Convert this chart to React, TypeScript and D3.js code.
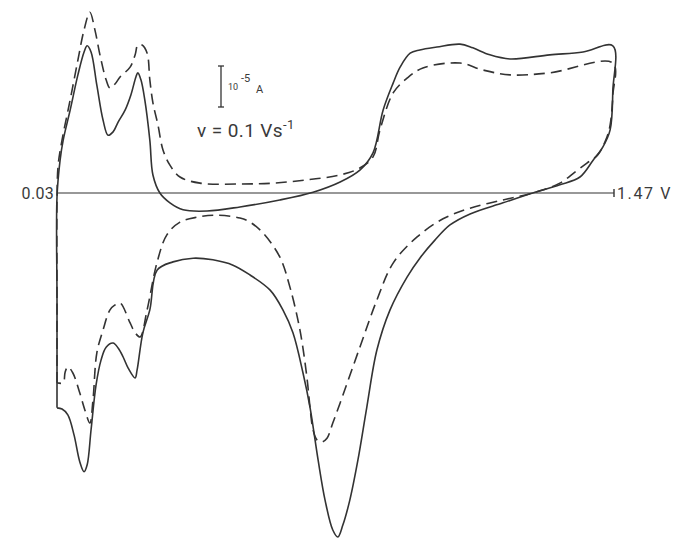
import React from "react";
import * as d3 from "d3";

// Potential axis (V) and current (µA) data
const potentialAxis = [0.03, 1.47];
const axisLabels = ["0.03", "1.47 V"];
const scaleBarMicroAmp = 10;
const scanRateLabel = "v = 0.1 Vs";

// Solid curve: [E (V), I (µA)]
const solidE = [0.030,0.030,0.030,0.038,0.046,0.064,0.084,0.100,0.108,0.118,0.133,0.149,0.162,0.175,0.188,0.206,0.221,0.234,0.239,0.247,0.257,0.270,0.278,0.296,0.322,0.356,0.418,0.503,0.606,0.692,0.762,0.813,0.847,0.873,0.899,0.917,0.943,0.968,1.012,1.072,1.105,1.149,1.201,1.304,1.390,1.467,
  1.467,1.460,1.441,1.416,1.382,1.330,1.260,1.183,1.098,1.046,1.007,0.968,0.935,0.891,0.857,0.831,0.808,0.787,0.769,0.756,0.743,0.723,0.705,0.684,0.666,0.640,0.614,0.581,0.529,0.485,0.433,0.382,0.330,0.289,0.270,0.252,0.237,0.232,0.214,0.201,0.188,0.175,0.157,0.144,0.131,0.118,0.108,0.100,0.089,0.074,0.058,0.043,0.030];
const solidI = [-52.4,-26.1,-1.0,8.0,12.9,20.2,28.8,34.4,35.9,34.4,26.3,17.8,14.1,14.9,17.3,20.2,23.9,28.3,29.3,27.6,22.7,12.9,4.4,0,-2.4,-4.1,-4.4,-3.4,-1.7,0.2,2.7,5.6,9.8,20.2,26.8,30.7,34.1,34.9,35.6,36.3,35.4,33.7,32.7,33.7,34.4,35.9,
  25.1,15.4,11.2,8.0,3.9,2.0,0,-2.4,-5.1,-7.8,-11.5,-15.9,-20.5,-28.5,-38.3,-52.2,-65.1,-74.9,-81.0,-83.9,-82.2,-74.9,-65.1,-52.2,-43.9,-34.1,-28.5,-23.7,-20.0,-17.6,-16.3,-15.9,-16.8,-18.8,-28.5,-34.1,-43.2,-45.1,-42.7,-40.0,-37.8,-36.6,-37.6,-40.7,-46.8,-57.8,-66.3,-68.0,-65.6,-59.0,-54.1,-52.7,-52.4];

// Dashed curve: [E (V), I (µA)]
const dashedE = [0.030,0.030,0.030,0.033,0.043,0.064,0.084,0.100,0.115,0.128,0.141,0.157,0.167,0.180,0.193,0.219,0.232,0.239,0.250,0.263,0.270,0.278,0.291,0.304,0.322,0.348,0.400,0.503,0.588,0.676,0.762,0.813,0.847,0.865,0.899,0.935,0.976,1.072,1.131,1.201,1.304,1.467,
  1.467,1.460,1.452,1.428,1.400,1.369,1.330,1.260,1.183,1.098,1.028,0.961,0.899,0.857,0.813,0.762,0.743,0.728,0.715,0.702,0.692,0.684,0.676,0.658,0.632,0.606,0.563,0.529,0.503,0.444,0.392,0.348,0.314,0.289,0.263,0.245,0.232,0.219,0.193,0.180,0.167,0.149,0.133,0.123,0.115,0.102,0.089,0.071,0.058,0.051,0.046,0.030];
const dashedI = [-46.3,-26.1,-1.7,6.8,12.9,22.7,32.4,39.8,44.1,39.8,33.7,27.6,25.6,26.6,28.3,30.7,33.7,36.1,36.1,34.1,27.6,22.0,16.6,10.5,6.8,3.9,2.4,2.2,2.4,3.2,4.4,6.1,8.8,15.4,24.4,28.0,30.5,31.7,30.0,28.8,29.3,31.7,
  23.9,16.6,13.7,9.3,7.3,5.1,2.4,0,-1.7,-3.7,-6.3,-10.7,-17.1,-26.1,-37.6,-51.2,-56.1,-59.8,-60.7,-60.2,-57.8,-52.2,-44.9,-33.4,-22.9,-15.6,-9.8,-7.1,-6.1,-5.4,-5.9,-7.1,-10.2,-16.8,-28.5,-35.1,-34.1,-31.7,-26.8,-27.3,-28.5,-33.4,-39.0,-50.5,-56.1,-52.9,-48.8,-43.9,-42.4,-43.7,-46.3,-46.3];

const W = 677;
const H = 542;

export default function App() {
  const x = d3.scaleLinear().domain(potentialAxis).range([57, 614]);
  const y = d3.scaleLinear().domain([0, 10]).range([193, 152]);

  const line = d3
    .line<[number, number]>()
    .x((d) => x(d[0]))
    .y((d) => y(d[1]))
    .curve(d3.curveCatmullRom.alpha(0.5));

  const solid: [number, number][] = solidE.map((e, i) => [e, solidI[i]]);
  const dashed: [number, number][] = dashedE.map((e, i) => [e, dashedI[i]]);

  const barLen = y(0) - y(scaleBarMicroAmp);
  const barX = 221;
  const barBottom = 107;
  const barTop = barBottom - barLen;

  const ink = "#333";
  const txt = "#3a3a3a";
  const font = "Roboto, 'DejaVu Sans', sans-serif";

  return (
    <svg
      width={W}
      height={H}
      viewBox={`0 0 ${W} ${H}`}
      style={{ position: "absolute", left: 0, top: 0, background: "#fff" }}
    >
      <rect x={0} y={0} width={W} height={H} fill="#fff" />
      {/* potential axis */}
      <line x1={x(potentialAxis[0])} x2={x(potentialAxis[1])} y1={y(0)} y2={y(0)} stroke={ink} strokeWidth={1.2} />
      <line x1={x(potentialAxis[1])} x2={x(potentialAxis[1])} y1={y(0) - 4} y2={y(0) + 4} stroke={ink} strokeWidth={1.4} />
      <text x={x(potentialAxis[0]) - 3} y={y(0) + 6} textAnchor="end" fontFamily={font} fontSize={16} fill={txt} letterSpacing={0.3}>
        {axisLabels[0]}
      </text>
      <text x={x(potentialAxis[1]) + 3} y={y(0) + 6} fontFamily={font} fontSize={16} fill={txt} letterSpacing={1.6}>
        {axisLabels[1]}
      </text>

      {/* scale bar */}
      <line x1={barX} x2={barX} y1={barTop} y2={barBottom} stroke={ink} strokeWidth={1.3} />
      <line x1={barX - 3} x2={barX + 3} y1={barTop} y2={barTop} stroke={ink} strokeWidth={1.3} />
      <line x1={barX - 3} x2={barX + 3} y1={barBottom} y2={barBottom} stroke={ink} strokeWidth={1.3} />
      <text x={228} y={90} fontFamily={font} fontSize={9} fill={txt}>10</text>
      <text x={241} y={82} fontFamily={font} fontSize={11} fill={txt}>-5</text>
      <text x={256} y={93} fontFamily={font} fontSize={11} fill={txt}>A</text>

      {/* scan rate */}
      <text x={197} y={137} fontFamily={font} fontSize={19} fill={txt} letterSpacing={0.4}>
        {scanRateLabel}
        <tspan dy={-8} fontSize={13}>-1</tspan>
      </text>

      {/* curves */}
      <path d={line(solid) ?? ""} fill="none" stroke={ink} strokeWidth={1.6} strokeLinejoin="round" />
      <path d={line(dashed) ?? ""} fill="none" stroke={ink} strokeWidth={1.6} strokeDasharray="11 6" strokeLinejoin="round" />
    </svg>
  );
}
